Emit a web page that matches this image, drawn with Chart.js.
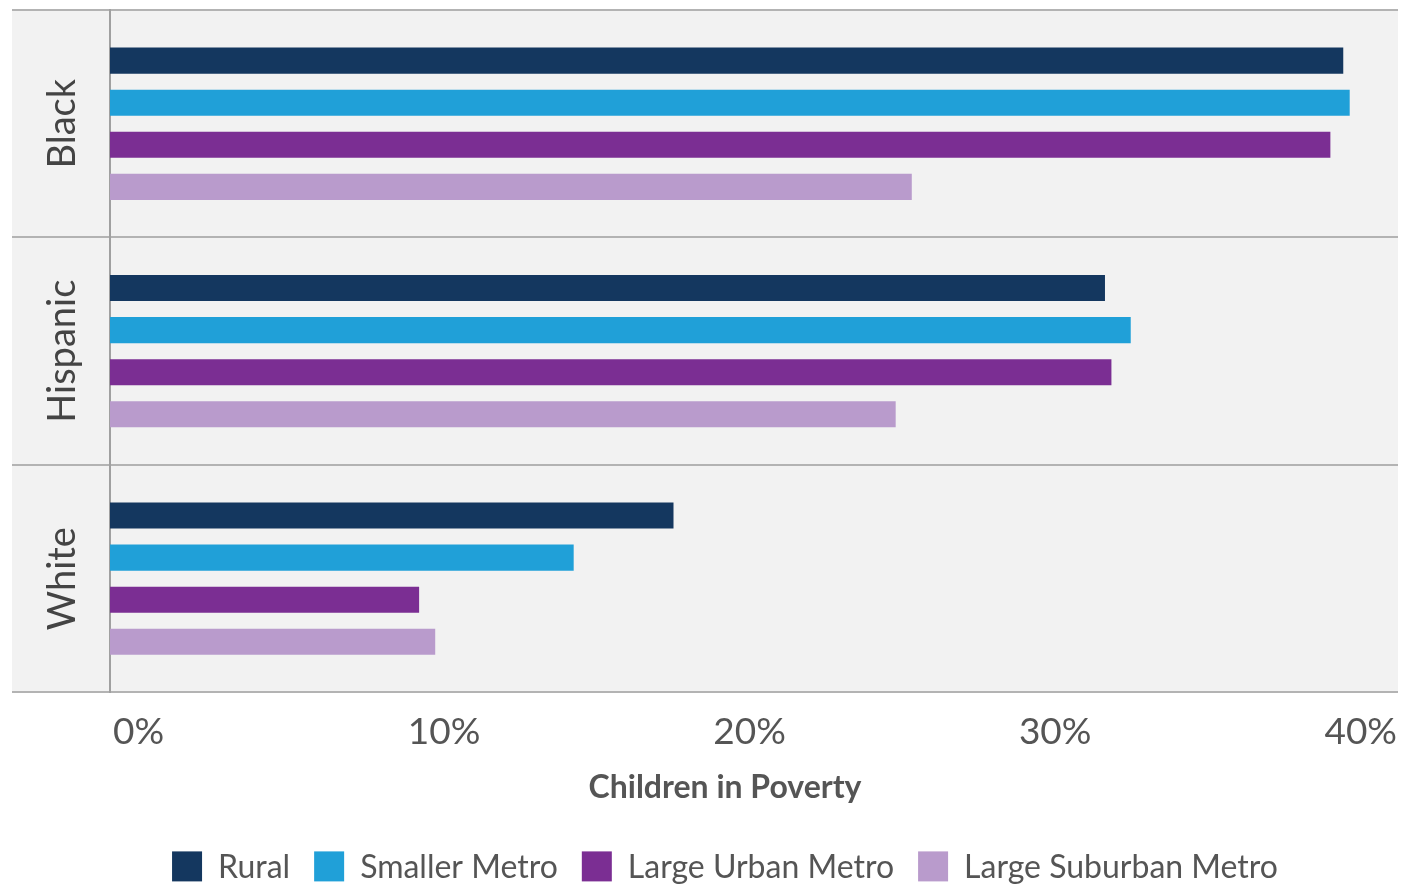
<!DOCTYPE html>
<html>
<head>
<meta charset="utf-8">
<script src="https://cdn.jsdelivr.net/npm/chart.js@4.4.1/dist/chart.umd.min.js"></script>
<style>
  html, body { margin: 0; padding: 0; background: #fff; }
  #wrap { width: 1408px; height: 887px; position: relative; }
</style>
</head>
<body>
<div id="wrap"><canvas id="chart"></canvas></div>
<script>
// Children in poverty by race and place type (%)
const categories = ['Black', 'Hispanic', 'White'];
const seriesNames = ['Rural', 'Smaller Metro', 'Large Urban Metro', 'Large Suburban Metro'];
const rural = [38.3, 30.9, 17.5];
const smallerMetro = [38.5, 31.7, 14.4];
const largeUrban = [37.9, 31.1, 9.6];
const largeSuburban = [24.9, 24.4, 10.1];
const xTicks = [0, 10, 20, 30, 40];
const xTitle = 'Children in Poverty';

const colors = ['#14375f', '#20a0d8', '#7b2e93', '#b99bcc'];
const FONT = 'Lato, "Open Sans", sans-serif';

// grey panel behind plot + label column
const panelBg = {
    id: 'panelBg',
    beforeDraw(chart) {
        const { ctx, chartArea } = chart;
        const y = chart.scales.y;
        ctx.save();
        ctx.fillStyle = '#f2f2f2';
        ctx.fillRect(y.left, chartArea.top, chartArea.right - y.left, chartArea.bottom - chartArea.top);
        ctx.restore();
    }
};

// rotated category labels, spread-out x tick labels, axis title, legend
const labelsPlugin = {
    id: 'labelsPlugin',
    afterDraw(chart) {
        const { ctx, chartArea } = chart;
        const y = chart.scales.y;
        const x = chart.scales.x;
        ctx.save();

        ctx.fillStyle = '#444';
        ctx.font = `38px ${FONT}`;
        ctx.textAlign = 'center';
        ctx.textBaseline = 'middle';
        const cx = (y.left + chartArea.left) / 2 + 2;
        categories.forEach((c, i) => {
            ctx.save();
            ctx.translate(cx, y.getPixelForValue(i));
            ctx.rotate(-Math.PI / 2);
            ctx.fillText(c, 0, 0);
            ctx.restore();
        });

        ctx.fillStyle = '#555';
        ctx.font = `37px ${FONT}`;
        const texts = xTicks.map(v => v + '%');
        const w0 = ctx.measureText(texts[0]).width;
        const wN = ctx.measureText(texts[texts.length - 1]).width;
        const first = x.getPixelForValue(xTicks[0]) + 3 + w0 / 2;
        const last = x.getPixelForValue(xTicks[xTicks.length - 1]) - 1 - wN / 2;
        const step = (last - first) / (texts.length - 1);
        texts.forEach((t, i) => {
            ctx.fillText(t, first + step * i, chartArea.bottom + 40);
        });

        const midX = (y.left + chartArea.right) / 2 + 20;
        ctx.font = `bold 32px ${FONT}`;
        ctx.fillText(xTitle, midX, chartArea.bottom + 95);

        // legend row
        const box = 30, gap = 16, spacing = 24;
        ctx.font = `32px ${FONT}`;
        const widths = seriesNames.map(n => ctx.measureText(n).width);
        const total = widths.reduce((a, w) => a + box + gap + w, 0) + spacing * (seriesNames.length - 1);
        let lx = midX - total / 2;
        const ly = chartArea.bottom + 174;
        ctx.textAlign = 'left';
        seriesNames.forEach((n, i) => {
            ctx.fillStyle = chart.data.datasets[i].backgroundColor;
            ctx.fillRect(lx, ly - box / 2, box, box);
            ctx.fillStyle = '#555';
            ctx.fillText(n, lx + box + gap, ly + 1);
            lx += box + gap + widths[i] + spacing;
        });
        ctx.restore();
    }
};

const datasets = [rural, smallerMetro, largeUrban, largeSuburban].map((d, i) => ({
    label: seriesNames[i],
    data: d,
    backgroundColor: colors[i],
    borderWidth: 0,
    categoryPercentage: 0.74,
    barPercentage: 0.62
}));

new Chart(document.getElementById('chart'), {
    type: 'bar',
    data: { labels: categories, datasets: datasets },
    plugins: [panelBg, labelsPlugin],
    options: {
        indexAxis: 'y',
        responsive: true,
        maintainAspectRatio: false,
        animation: false,
        layout: { padding: { left: 12, right: 10, top: 10, bottom: 67 } },
        plugins: {
            tooltip: { enabled: false },
            legend: { display: false }
        },
        scales: {
            x: {
                min: 0,
                max: 40,
                grid: { display: false },
                border: { display: false },
                ticks: { display: false, stepSize: 10 },
                // reserves space only; the visible title is drawn by labelsPlugin
                title: {
                    display: true,
                    text: xTitle,
                    color: 'rgba(0,0,0,0)',
                    font: { family: FONT, size: 28, weight: 'bold' },
                    padding: { top: 78, bottom: 8 }
                }
            },
            y: {
                grid: {
                    offset: true,
                    color: '#b3b3b3',
                    lineWidth: 2,
                    drawTicks: true,
                    tickLength: 98
                },
                border: { display: true, color: '#a0a0a0', width: 2 },
                ticks: { display: false }
            }
        }
    }
});
</script>
</body>
</html>
